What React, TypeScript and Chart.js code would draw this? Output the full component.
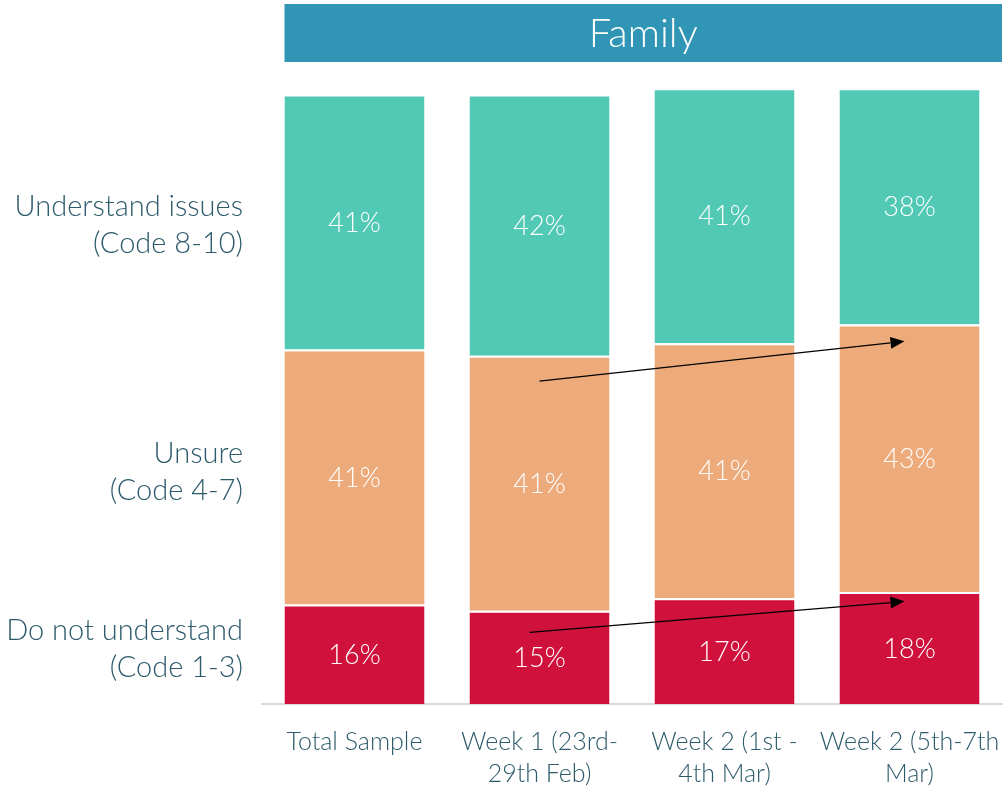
import React, { useEffect, useRef } from "react";
import { Chart, registerables } from "chart.js";

Chart.register(...registerables);

const categories: string[][] = [
  ["Total Sample"],
  ["Week 1 (23rd-", "29th Feb)"],
  ["Week 2 (1st -", "4th Mar)"],
  ["Week 2 (5th-7th", "Mar)"],
];
const doNotUnderstand = [16, 15, 17, 18];
const unsure = [41, 41, 41, 43];
const understand = [41, 42, 41, 38];
const seriesNames = ["Do not understand", "Unsure", "Understand issues"];
const rowLabels: string[][] = [
  ["Do not understand", "(Code 1-3)"],
  ["Unsure", "(Code 4-7)"],
  ["Understand issues", "(Code 8-10)"],
];
const chartTitle = "Family";
// arrows: [fromCategory, fromValue, toCategory, toValue]
const arrows: number[][] = [
  [1, 51.9, 2.973, 58.3],
  [0.946, 11.5, 2.973, 16.5],
];

const FONT = "Lato, 'Open Sans', sans-serif";
const TEXT = "#2E5B6B";
const ROW_LABEL_SHIFT = [-5, -5, 3];

const overlayPlugin = {
  id: "overlay",
  afterDatasetsDraw(chart: any) {
    const ctx = chart.ctx;
    const x = chart.scales.x;
    const y = chart.scales.y;
    const area = chart.chartArea;
    ctx.save();
    // data labels
    chart.data.datasets.forEach((ds: any, di: number) => {
      const meta = chart.getDatasetMeta(di);
      meta.data.forEach((bar: any, i: number) => {
        const cy = (bar.y + bar.base) / 2;
        ctx.fillStyle = "#ffffff";
        ctx.font = `300 27px ${FONT}`;
        ctx.textAlign = "center";
        ctx.textBaseline = "middle";
        ctx.fillText(ds.data[i] + "%", bar.x, cy + 1);
      });
      // row labels at first bar
      const first = meta.data[0];
      const cy = (first.y + first.base) / 2 + ROW_LABEL_SHIFT[di];
      const lines = rowLabels[di];
      ctx.fillStyle = TEXT;
      ctx.font = `300 29px ${FONT}`;
      ctx.textAlign = "right";
      ctx.textBaseline = "middle";
      lines.forEach((ln, k) => {
        ctx.fillText(ln, 243, cy + (k - (lines.length - 1) / 2) * 37);
      });
    });
    // category labels
    ctx.fillStyle = TEXT;
    ctx.font = `300 25px ${FONT}`;
    ctx.textAlign = "center";
    ctx.textBaseline = "middle";
    categories.forEach((lines, i) => {
      const cx = x.getPixelForValue(i);
      lines.forEach((ln, k) => {
        ctx.fillText(ln, cx, area.bottom + 38 + k * 32);
      });
    });
    // arrows
    ctx.strokeStyle = "#000";
    ctx.fillStyle = "#000";
    ctx.lineWidth = 1.3;
    arrows.forEach((a) => {
      const x1 = x.getPixelForValue(a[0]);
      const y1 = y.getPixelForValue(a[1]);
      const x2 = x.getPixelForValue(a[2]);
      const y2 = y.getPixelForValue(a[3]);
      const ang = Math.atan2(y2 - y1, x2 - x1);
      const hl = 14;
      const hw = 6;
      const bx = x2 - hl * Math.cos(ang);
      const by = y2 - hl * Math.sin(ang);
      ctx.beginPath();
      ctx.moveTo(x1, y1);
      ctx.lineTo(bx, by);
      ctx.stroke();
      ctx.beginPath();
      ctx.moveTo(x2, y2);
      ctx.lineTo(bx + hw * Math.sin(ang), by - hw * Math.cos(ang));
      ctx.lineTo(bx - hw * Math.sin(ang), by + hw * Math.cos(ang));
      ctx.closePath();
      ctx.fill();
    });
    // title box
    const meta0 = chart.getDatasetMeta(0);
    const left = meta0.data[0].x - meta0.data[0].width / 2;
    ctx.fillStyle = "#3196B5";
    ctx.fillRect(left, 4, area.right - left, 58);
    ctx.fillStyle = "#ffffff";
    ctx.font = `300 40px ${FONT}`;
    ctx.textAlign = "center";
    ctx.textBaseline = "middle";
    ctx.fillText(chartTitle, (left + area.right) / 2, 34);
    ctx.restore();
  },
};

export default function App() {
  const ref = useRef<HTMLCanvasElement>(null);
  useEffect(() => {
    document.body.style.margin = "0";
    const colors = ["#CF113B", "#EDAA7B", "#52C9B4"];
    const values = [doNotUnderstand, unsure, understand];
    const chart = new Chart(ref.current!, {
      type: "bar",
      data: {
        labels: categories.map((c) => c.join(" ")),
        datasets: values.map((v, i) => ({
          label: seriesNames[i],
          data: v,
          backgroundColor: colors[i],
          borderColor: "#ffffff",
          borderWidth: { top: 2, left: 0, right: 0, bottom: 0 },
          borderSkipped: false,
          categoryPercentage: 1,
          barPercentage: 0.757,
        })),
      },
      options: {
        animation: false,
        responsive: false,
        maintainAspectRatio: false,
        layout: { padding: { left: 262, right: 2, top: 82, bottom: 84 } },
        plugins: {
          legend: { display: false },
          tooltip: { enabled: false },
          title: { display: false },
        },
        scales: {
          x: {
            stacked: true,
            grid: { display: false, drawTicks: false },
            border: { display: true, color: "#D9D9D9", width: 2 },
            ticks: { display: false },
          },
          y: {
            stacked: true,
            display: false,
            min: 0,
            max: 100,
          },
        },
      },
      plugins: [overlayPlugin],
    });
    return () => chart.destroy();
  }, []);
  return (
    <div style={{ width: 1004, height: 788 }}>
      <canvas ref={ref} width={1004} height={788} />
    </div>
  );
}
